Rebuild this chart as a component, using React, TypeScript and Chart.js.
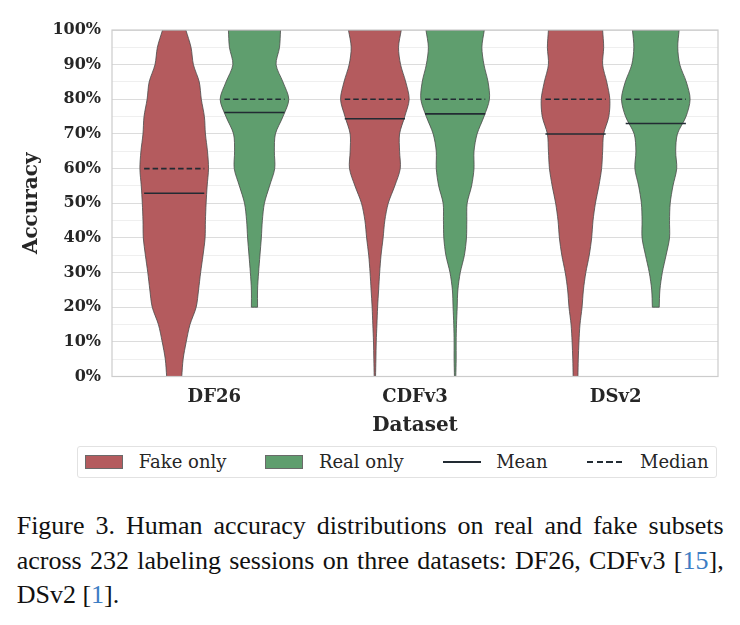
import React, { useEffect, useRef } from 'react';
import Chart from 'chart.js/auto';

const categories = ['DF26', 'CDFv3', 'DSv2'];
const accuracyLevels = [0, 5, 10, 15, 20, 25, 30, 35, 40, 45, 50, 55, 60, 65, 70, 75, 80, 85, 90, 95, 100];

// relative density (1 = widest point of that violin), listed from the violin's lowest accuracy upwards
const df26Fake = [0.22, 0.26, 0.35, 0.46, 0.64, 0.71, 0.77, 0.84, 0.9, 0.91, 0.93, 0.96, 1.0, 0.97, 0.91, 0.88, 0.79, 0.73, 0.56, 0.49, 0.34];
const df26Real = [0.09, 0.09, 0.12, 0.16, 0.2, 0.23, 0.29, 0.44, 0.59, 0.58, 0.61, 0.83, 1.0, 0.83, 0.63, 0.73, 0.76];
const cdfv3Fake = [0.02, 0.03, 0.04, 0.06, 0.08, 0.11, 0.14, 0.18, 0.24, 0.29, 0.39, 0.58, 0.74, 0.72, 0.72, 0.87, 1.0, 0.9, 0.75, 0.69, 0.77];
const cdfv3Real = [0.02, 0.03, 0.03, 0.04, 0.06, 0.08, 0.15, 0.27, 0.33, 0.34, 0.35, 0.48, 0.55, 0.55, 0.64, 0.84, 1.0, 0.96, 0.84, 0.78, 0.85];
const dsv2Fake = [0.07, 0.08, 0.1, 0.13, 0.19, 0.23, 0.3, 0.4, 0.47, 0.51, 0.58, 0.68, 0.76, 0.79, 0.82, 0.97, 1.0, 0.91, 0.79, 0.82, 0.79];
const dsv2Real = [0.1, 0.12, 0.19, 0.3, 0.4, 0.4, 0.42, 0.5, 0.61, 0.58, 0.63, 0.88, 1.0, 0.89, 0.7, 0.64, 0.68];

const fakeDensities = [df26Fake, cdfv3Fake, dsv2Fake];
const realDensities = [df26Real, cdfv3Real, dsv2Real];
const fakeLowest = [0, 0, 0];
const realLowest = [20, 0, 20];

const fakeMeans = [52.9, 74.4, 70.0];
const realMeans = [76.2, 75.8, 73.0];
const fakeMedians = [60, 80, 80];
const realMedians = [80, 80, 80];

const FAKE_COLOR = '#b45b5e';
const REAL_COLOR = '#5f9e6e';
const EDGE_COLOR = '#4a4a4a';
const STAT_COLOR = '#222b33';
const TEXT_COLOR = '#262626';

const OFFSET = 0.2;       // violin centre distance from category
const HALF_WIDTH = 0.171; // widest half-width, in category units
const STAT_HALF = 0.15;

type Pt = { x: number; y: number };

function violinShape(center: number, lowest: number, density: number[]): Pt[] {
  const levels = accuracyLevels.filter((v) => v >= lowest);
  const left = levels.map((y, i) => ({ x: center - density[i] * HALF_WIDTH, y }));
  const right = levels.map((y, i) => ({ x: center + density[i] * HALF_WIDTH, y })).reverse();
  // corner points doubled so the spline keeps the flat cut ends sharp
  const lt = left[left.length - 1];
  const rb = right[right.length - 1];
  return [
    ...left.slice(0, -1), lt, lt,
    right[0], ...right.slice(0, -1), rb, rb,
    left[0],
  ];
}

function statLine(center: number, value: number): Pt[] {
  return [
    { x: center - STAT_HALF, y: value },
    { x: center + STAT_HALF, y: value },
  ];
}

const framePlugin = {
  id: 'plotFrame',
  afterDatasetsDraw(chart: any) {
    const { ctx, chartArea: a } = chart;
    ctx.save();
    ctx.strokeStyle = '#cccccc';
    ctx.lineWidth = 1.2;
    ctx.strokeRect(a.left, a.top, a.right - a.left, a.bottom - a.top);
    ctx.restore();
  },
};

const ViolinChart: React.FC = () => {
  const canvasRef = useRef<HTMLCanvasElement>(null);
  const chartRef = useRef<Chart>();

  useEffect(() => {
    if (!canvasRef.current) return;
    const ctx = canvasRef.current.getContext('2d');
    if (!ctx) return;
    if (chartRef.current) chartRef.current.destroy();

    const violins: any[] = [];
    const stats: any[] = [];
    categories.forEach((name, i) => {
      const groups = [
        { c: i - OFFSET, low: fakeLowest[i], dens: fakeDensities[i], color: FAKE_COLOR, mean: fakeMeans[i], median: fakeMedians[i], label: 'Fake only' },
        { c: i + OFFSET, low: realLowest[i], dens: realDensities[i], color: REAL_COLOR, mean: realMeans[i], median: realMedians[i], label: 'Real only' },
      ];
      groups.forEach((g) => {
        violins.push({
          label: `${name} ${g.label}`,
          data: violinShape(g.c, g.low, g.dens),
          backgroundColor: g.color,
          borderColor: EDGE_COLOR,
          borderWidth: 0.8,
          fill: 'shape',
          tension: 0.3,
          pointRadius: 0,
          order: 2,
        });
        stats.push({
          label: `${name} ${g.label} mean`,
          data: statLine(g.c, g.mean),
          borderColor: STAT_COLOR,
          borderWidth: 1.6,
          pointRadius: 0,
          fill: false,
          order: 1,
        });
        stats.push({
          label: `${name} ${g.label} median`,
          data: statLine(g.c, g.median),
          borderColor: STAT_COLOR,
          borderWidth: 1.6,
          borderDash: [5.5, 3],
          pointRadius: 0,
          fill: false,
          order: 1,
        });
      });
    });

    chartRef.current = new Chart(ctx, {
      type: 'line',
      data: { datasets: [...violins, ...stats] },
      options: {
        animation: false,
        responsive: true,
        maintainAspectRatio: false,
        events: [],
        layout: { padding: { top: 22, right: 14, bottom: 2, left: 0 } },
        plugins: {
          legend: { display: false },
          tooltip: { enabled: false },
        },
        scales: {
          x: {
            type: 'linear',
            min: -0.51,
            max: 2.51,
            grid: { display: false, drawTicks: false },
            border: { display: false },
            afterBuildTicks: (axis: any) => {
              axis.ticks = categories.map((_, i) => ({ value: i }));
            },
            afterFit: (axis: any) => {
              axis.height = 65.5;
            },
            ticks: {
              callback: (v: any) => categories[v as number],
              autoSkip: false,
              maxRotation: 0,
              padding: 10,
              color: TEXT_COLOR,
              font: { family: 'DejaVu Serif', size: 18, weight: 'bold' },
            },
            title: {
              display: true,
              text: 'Dataset',
              color: TEXT_COLOR,
              padding: { top: 4, bottom: 4 },
              font: { family: 'DejaVu Serif', size: 20, weight: 'bold' },
            },
          },
          y: {
            min: 0,
            max: 100,
            grid: {
              drawTicks: false,
              color: (c: any) => (c.tick.value % 10 === 0 ? '#dcdcdc' : '#efefef'),
              lineWidth: 1,
            },
            border: { display: false },
            afterFit: (axis: any) => {
              axis.width = 104;
            },
            ticks: {
              stepSize: 5,
              autoSkip: false,
              padding: 11,
              color: TEXT_COLOR,
              callback: (v: any) => ((v as number) % 10 === 0 ? `${v}%` : ''),
              font: { family: 'DejaVu Serif', size: 16, weight: 'bold' },
            },
            title: {
              display: true,
              text: 'Accuracy',
              color: TEXT_COLOR,
              padding: { top: 12, bottom: 4 },
              font: { family: 'DejaVu Serif', size: 20, weight: 'bold' },
            },
          },
        },
      },
      plugins: [framePlugin],
    });

    return () => {
      if (chartRef.current) {
        chartRef.current.destroy();
        chartRef.current = undefined;
      }
    };
  }, []);

  return (
    <div style={{ position: 'absolute', left: 0, top: 0, width: 724, height: 436 }}>
      <canvas ref={canvasRef}></canvas>
    </div>
  );
};

const legendItems = [
  { label: 'Fake only', kind: 'patch', color: FAKE_COLOR },
  { label: 'Real only', kind: 'patch', color: REAL_COLOR },
  { label: 'Mean', kind: 'line', color: STAT_COLOR },
  { label: 'Median', kind: 'dash', color: STAT_COLOR },
];

const Legend: React.FC = () => (
  <div
    style={{
      position: 'absolute',
      left: 69.3,
      top: 438,
      width: 639.4,
      height: 32.3,
      boxSizing: 'border-box',
      border: '1px solid #e2e2e2',
      borderRadius: 3,
      display: 'flex',
      alignItems: 'center',
      justifyContent: 'space-between',
      padding: '0 7px',
      fontFamily: 'DejaVu Serif',
      fontSize: 18,
      color: TEXT_COLOR,
    }}
  >
    {legendItems.map((it) => (
      <div key={it.label} style={{ display: 'flex', alignItems: 'center' }}>
        {it.kind === 'patch' ? (
          <span
            style={{
              display: 'inline-block',
              width: 38,
              height: 14,
              boxSizing: 'border-box',
              background: it.color,
              border: '1px solid #6a6a6a',
            }}
          />
        ) : (
          <span
            style={{
              display: 'inline-block',
              width: 38,
              height: 1.8,
              background:
                it.kind === 'line'
                  ? it.color
                  : `repeating-linear-gradient(to right, ${it.color} 0 6.5px, transparent 6.5px 9.6px)`,
            }}
          />
        )}
        <span style={{ marginLeft: 15.5, lineHeight: '20px' }}>{it.label}</span>
      </div>
    ))}
  </div>
);

const captionLines = [
  ['Figure 3. Human accuracy distributions on real and fake subsets'],
  ['across 232 labeling sessions on three datasets: DF26, CDFv3 [', '15', '],'],
  ['DSv2 [', '1', '].'],
];

const Caption: React.FC = () => (
  <div
    style={{
      position: 'absolute',
      left: 8.7,
      top: 501,
      width: 707,
      fontFamily: 'Liberation Serif',
      fontSize: 26,
      lineHeight: '34.7px',
      color: '#111',
    }}
  >
    {captionLines.map((parts, li) => (
      <div
        key={li}
        style={{
          textAlign: 'justify',
          textAlignLast: li < captionLines.length - 1 ? 'justify' : 'left',
          whiteSpace: 'nowrap',
        }}
      >
        {parts.map((p, pi) =>
          pi % 2 === 1 ? (
            <span key={pi} style={{ color: '#3b7dc4' }}>{p}</span>
          ) : (
            <span key={pi}>{p}</span>
          )
        )}
      </div>
    ))}
  </div>
);

const App: React.FC = () => (
  <div style={{ position: 'relative', width: 724, height: 609 }}>
    <ViolinChart />
    <Legend />
    <Caption />
  </div>
);

export default App;
